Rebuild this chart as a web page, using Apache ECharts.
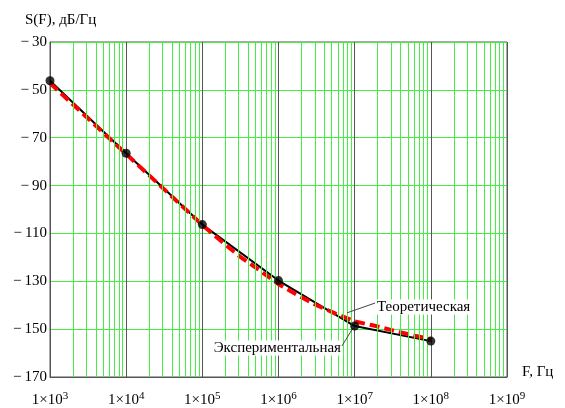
<!DOCTYPE html>
<html>
<head>
<meta charset="utf-8">
<script src="https://cdn.jsdelivr.net/npm/echarts@6/dist/echarts.min.js"></script>
<style>
  html, body { margin: 0; padding: 0; background: #fff; }
  #chart { width: 565px; height: 408px; }
</style>
</head>
<body>
<div id="chart"></div>
<script>
// Measured spectral density (black, with markers)
const freqExp = [1e3, 1e4, 1e5, 1e6, 1e7, 1e8];
const sExp = [-46.2, -76.5, -106.3, -129.7, -148.7, -155.0];

// Theoretical curve (red dashed)
const freqTheory = [1e3, 3.162e3, 1e4, 3.162e4, 1e5, 1.778e5, 3.162e5, 5.623e5,
  1e6, 1.778e6, 3.162e6, 5.623e6, 1e7, 1.778e7, 3.162e7, 5.623e7, 1e8];
const sTheory = [-47.2, -62.0, -76.8, -91.6, -106.5, -113.3, -119.8, -125.4,
  -131.2, -135.8, -140.0, -143.5, -146.8, -148.5, -150.5, -152.5, -154.2];

// Axis ranges and tick labels
const yTicks = [-170, -150, -130, -110, -90, -70, -50, -30];
const xDecades = [1e3, 1e4, 1e5, 1e6, 1e7, 1e8, 1e9];

// Minor vertical grid: 2..9 within every decade
const minorFreqs = [];
for (let d = 0; d < xDecades.length - 1; d++) {
  for (let m = 2; m <= 9; m++) minorFreqs.push(m * xDecades[d]);
}

// Callout anchors (data coordinates)
const theoryLabelAt = [1.96e7, -140.7];
const theoryLeader = [[7.93e6, -143.2], [1.85e7, -139.1]];
const expLabelAt = [6.61e6, -157.9];
const expLeader = [[6.82e6, -157.0], [9.5e6, -149.5]];

const FONT = 'Liberation Serif';

const chart = echarts.init(document.getElementById('chart'), null, { renderer: 'canvas' });
chart.setOption({
  animation: false,
  backgroundColor: '#fff',
  textStyle: { fontFamily: FONT },
  grid: {
    left: 50, right: 58, top: 42, bottom: 31,
    show: true, borderColor: '#555', borderWidth: 1, backgroundColor: '#fff'
  },
  graphic: [
    { type: 'text', left: 25, top: 13, style: { text: 'S(F), дБ/Гц', font: '15px ' + FONT, fill: '#000' } },
    { type: 'text', left: 522, top: 365, style: { text: 'F, Гц', font: '15px ' + FONT, fill: '#000' } }
  ],
  xAxis: {
    type: 'log', logBase: 10,
    min: xDecades[0], max: xDecades[xDecades.length - 1],
    splitNumber: 6,
    axisLine: { show: true, lineStyle: { color: '#555', width: 1 } },
    axisTick: { show: false },
    splitLine: { show: true, lineStyle: { color: '#555', width: 1 } },
    axisLabel: {
      margin: 14,
      formatter: v => '{b|1×10}{s|' + Math.round(Math.log10(v)) + '}',
      rich: {
        b: { fontSize: 15, fontFamily: FONT, color: '#000' },
        s: { fontSize: 11, fontFamily: FONT, color: '#000', verticalAlign: 'bottom', padding: [0, 0, 8, 0] }
      }
    }
  },
  yAxis: {
    type: 'value',
    min: yTicks[0], max: yTicks[yTicks.length - 1], interval: 20,
    axisLine: { show: true, lineStyle: { color: '#555', width: 1 } },
    axisTick: { show: false },
    splitLine: { show: true, lineStyle: { color: '#44ee44', width: 1 } },
    axisLabel: {
      margin: 3, fontSize: 15, fontFamily: FONT, color: '#000',
      formatter: v => (v < 0 ? '\u2212\u2009' : '') + Math.abs(v)
    }
  },
  series: [
    {
      name: 'grid-minor', type: 'line', data: [], silent: true, z: 1,
      markLine: {
        silent: true, symbol: ['none', 'none'], animation: false,
        label: { show: false },
        lineStyle: { color: '#44ee44', width: 1, type: 'solid' },
        data: minorFreqs.map(f => ({ xAxis: f }))
      }
    },
    {
      name: 'Экспериментальная', type: 'line', z: 3,
      data: freqExp.map((f, i) => [f, sExp[i]]),
      showSymbol: false,
      lineStyle: { color: '#000', width: 2 }
    },
    {
      name: 'Теоретическая', type: 'line', z: 4,
      data: freqTheory.map((f, i) => [f, sTheory[i]]),
      showSymbol: false, smooth: false,
      lineStyle: { color: '#ff0000', width: 4, type: [10, 5] }
    },
    {
      name: 'points', type: 'scatter', z: 5,
      data: freqExp.map((f, i) => [f, sExp[i]]),
      symbol: 'circle', symbolSize: 9,
      itemStyle: { color: '#000' }
    },
    {
      name: 'callouts', type: 'line', data: [], z: 6, silent: true,
      markLine: {
        silent: true, symbol: ['none', 'none'], animation: false,
        label: { show: false },
        lineStyle: { color: '#444', width: 1, type: 'solid' },
        data: [
          [{ coord: theoryLeader[0] }, { coord: theoryLeader[1] }],
          [{ coord: expLeader[0] }, { coord: expLeader[1] }]
        ]
      },
      markPoint: {
        silent: true, symbol: 'circle', symbolSize: 0, animation: false,
        data: [
          {
            coord: theoryLabelAt,
            label: { show: true, position: 'right', distance: 0, formatter: 'Теоретическая',
              fontSize: 15, fontFamily: FONT, color: '#000', backgroundColor: '#fff' }
          },
          {
            coord: expLabelAt,
            label: { show: true, position: 'left', distance: 0, formatter: 'Экспериментальная',
              fontSize: 15, fontFamily: FONT, color: '#000', backgroundColor: '#fff' }
          }
        ]
      }
    }
  ]
});
</script>
</body>
</html>
